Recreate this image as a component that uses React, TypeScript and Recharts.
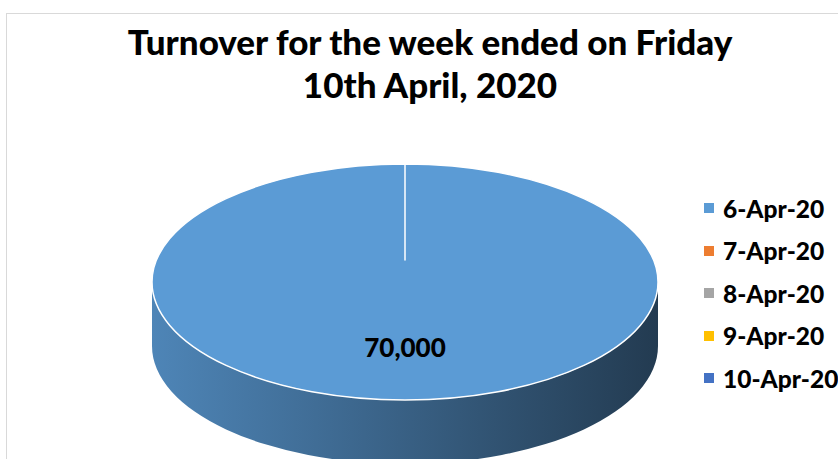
import React from 'react';
import { PieChart, Pie, Cell, Legend } from 'recharts';

// week of 6-10 April 2020
const days = ['6-Apr-20', '7-Apr-20', '8-Apr-20', '9-Apr-20', '10-Apr-20'];
const turnover = [70000, 0, 0, 0, 0];
const dayColors = ['#5b9bd5', '#ed7d31', '#a5a5a5', '#ffc000', '#4472c4'];

const titleLines = ['Turnover for the week ended on Friday', '10th April, 2020'];

const chartData = days.map((name, i) => ({ name, value: turnover[i] }));

const W = 838;
const H = 459;
const CX = 405;
const CY = 282;
const RX = 253;
const TILT = 118 / 253; // vertical squash of the pie
const DEPTH = 64;
const APEX_LIFT = 22;
const FONT = 'Lato, "Open Sans", sans-serif';
const RAD = Math.PI / 180;

function shade(hex: string, k: number) {
  const n = parseInt(hex.slice(1), 16);
  const r = Math.round(((n >> 16) & 255) * k);
  const g = Math.round(((n >> 8) & 255) * k);
  const b = Math.round((n & 255) * k);
  return `rgb(${r},${g},${b})`;
}

function Slice3D(props: any) {
  const { cx, cy, outerRadius, startAngle, endAngle, fill, index } = props;
  const span = Math.abs(endAngle - startAngle);
  if (!span) return null;
  const rx = outerRadius;
  const ry = outerRadius * TILT;
  const P = (a: number, dy = 0) =>
    `${cx + rx * Math.cos(a * RAD)},${cy - ry * Math.sin(a * RAD) + dy}`;

  const lo = Math.min(startAngle, endAngle);
  const hi = Math.max(startAngle, endAngle);
  const sides: string[] = [];
  for (const base of [-360, 0, 360]) {
    const a1 = Math.max(lo, base - 180);
    const a2 = Math.min(hi, base);
    if (a2 > a1) {
      sides.push(
        `M${P(a1)} A${rx},${ry} 0 0 0 ${P(a2)} L${P(a2, DEPTH)} A${rx},${ry} 0 0 1 ${P(a1, DEPTH)} Z`
      );
    }
  }

  const sweep = endAngle < startAngle ? 1 : 0;
  const dir = endAngle < startAngle ? -1 : 1;
  const apex = `${cx},${cy - APEX_LIFT}`;
  let top: string;
  if (span >= 359.99) {
    top = `M${apex} L${P(startAngle)} A${rx},${ry} 0 0 ${sweep} ${P(startAngle + dir * 180)} A${rx},${ry} 0 0 ${sweep} ${P(startAngle + dir * 360)} Z`;
  } else {
    top = `M${apex} L${P(startAngle)} A${rx},${ry} 0 ${span > 180 ? 1 : 0} ${sweep} ${P(endAngle)} Z`;
  }

  const gid = `side-grad-${index}`;
  return (
    <g>
      <defs>
        <linearGradient id={gid} gradientUnits="userSpaceOnUse" x1={cx - rx} y1={0} x2={cx + rx} y2={0}>
          <stop offset="0%" stopColor={shade(fill, 0.86)} />
          <stop offset="100%" stopColor={shade(fill, 0.38)} />
        </linearGradient>
      </defs>
      {sides.map((d, i) => (
        <path key={i} d={d} fill={`url(#${gid})`} stroke="none" />
      ))}
      <path d={top} fill={fill} stroke="#ffffff" strokeWidth={1.5} strokeLinejoin="round" />
    </g>
  );
}

function renderValue(props: any) {
  const { cx, cy, midAngle, outerRadius, value } = props;
  if (!value) return null;
  const x = cx + outerRadius * 0.55 * Math.cos(midAngle * RAD);
  const y = cy - outerRadius * TILT * 0.55 * Math.sin(midAngle * RAD);
  return (
    <text x={x} y={y} textAnchor="middle" dominantBaseline="central" fill="#000" fontFamily={FONT} fontWeight={900} fontSize={26}>
      {value.toLocaleString('en-US')}
    </text>
  );
}

function LegendBox() {
  return (
    <div style={{ fontFamily: FONT, fontWeight: 900, fontSize: 24.5, color: '#000' }}>
      {days.map((d, i) => (
        <div key={d} style={{ height: 42.5, display: 'flex', alignItems: 'center', whiteSpace: 'nowrap' }}>
          <span style={{ width: 10, height: 10, background: dayColors[i], marginRight: 9, display: 'inline-block' }} />
          <span>{d}</span>
        </div>
      ))}
    </div>
  );
}

export default function App() {
  return (
    <div style={{ position: 'absolute', left: 0, top: 0, width: W, height: H, overflow: 'hidden', background: '#fff' }}>
      <div style={{ position: 'absolute', left: 6, top: 13, right: 0, bottom: 0, borderTop: '1px solid #d9d9d9', borderLeft: '1px solid #d9d9d9' }} />
      {titleLines.map((t, i) => (
        <div
          key={t}
          style={{
            position: 'absolute',
            left: 22,
            width: 816,
            top: 20 + i * 43,
            lineHeight: '43px',
            textAlign: 'center',
            fontFamily: FONT,
            fontWeight: 900,
            fontSize: 35,
            color: '#000',
          }}
        >
          {t}
        </div>
      ))}
      <div style={{ position: 'absolute', left: 0, top: 0 }}>
        <PieChart width={W} height={H} margin={{ top: 0, right: 0, bottom: 0, left: 0 }}>
          <Pie
            data={chartData}
            dataKey="value"
            nameKey="name"
            cx={CX}
            cy={CY}
            outerRadius={RX}
            startAngle={90}
            endAngle={-270}
            stroke="#fff"
            shape={Slice3D}
            activeShape={Slice3D}
            inactiveShape={Slice3D}
            label={renderValue}
            labelLine={false}
            isAnimationActive={false}
          >
            {chartData.map((d, i) => (
              <Cell key={d.name} fill={dayColors[i]} />
            ))}
          </Pie>
          <Legend
            layout="vertical"
            verticalAlign="top"
            align="right"
            wrapperStyle={{ left: 704, top: 187, width: 160, right: 'auto' }}
            content={() => <LegendBox />}
          />
        </PieChart>
      </div>
    </div>
  );
}
